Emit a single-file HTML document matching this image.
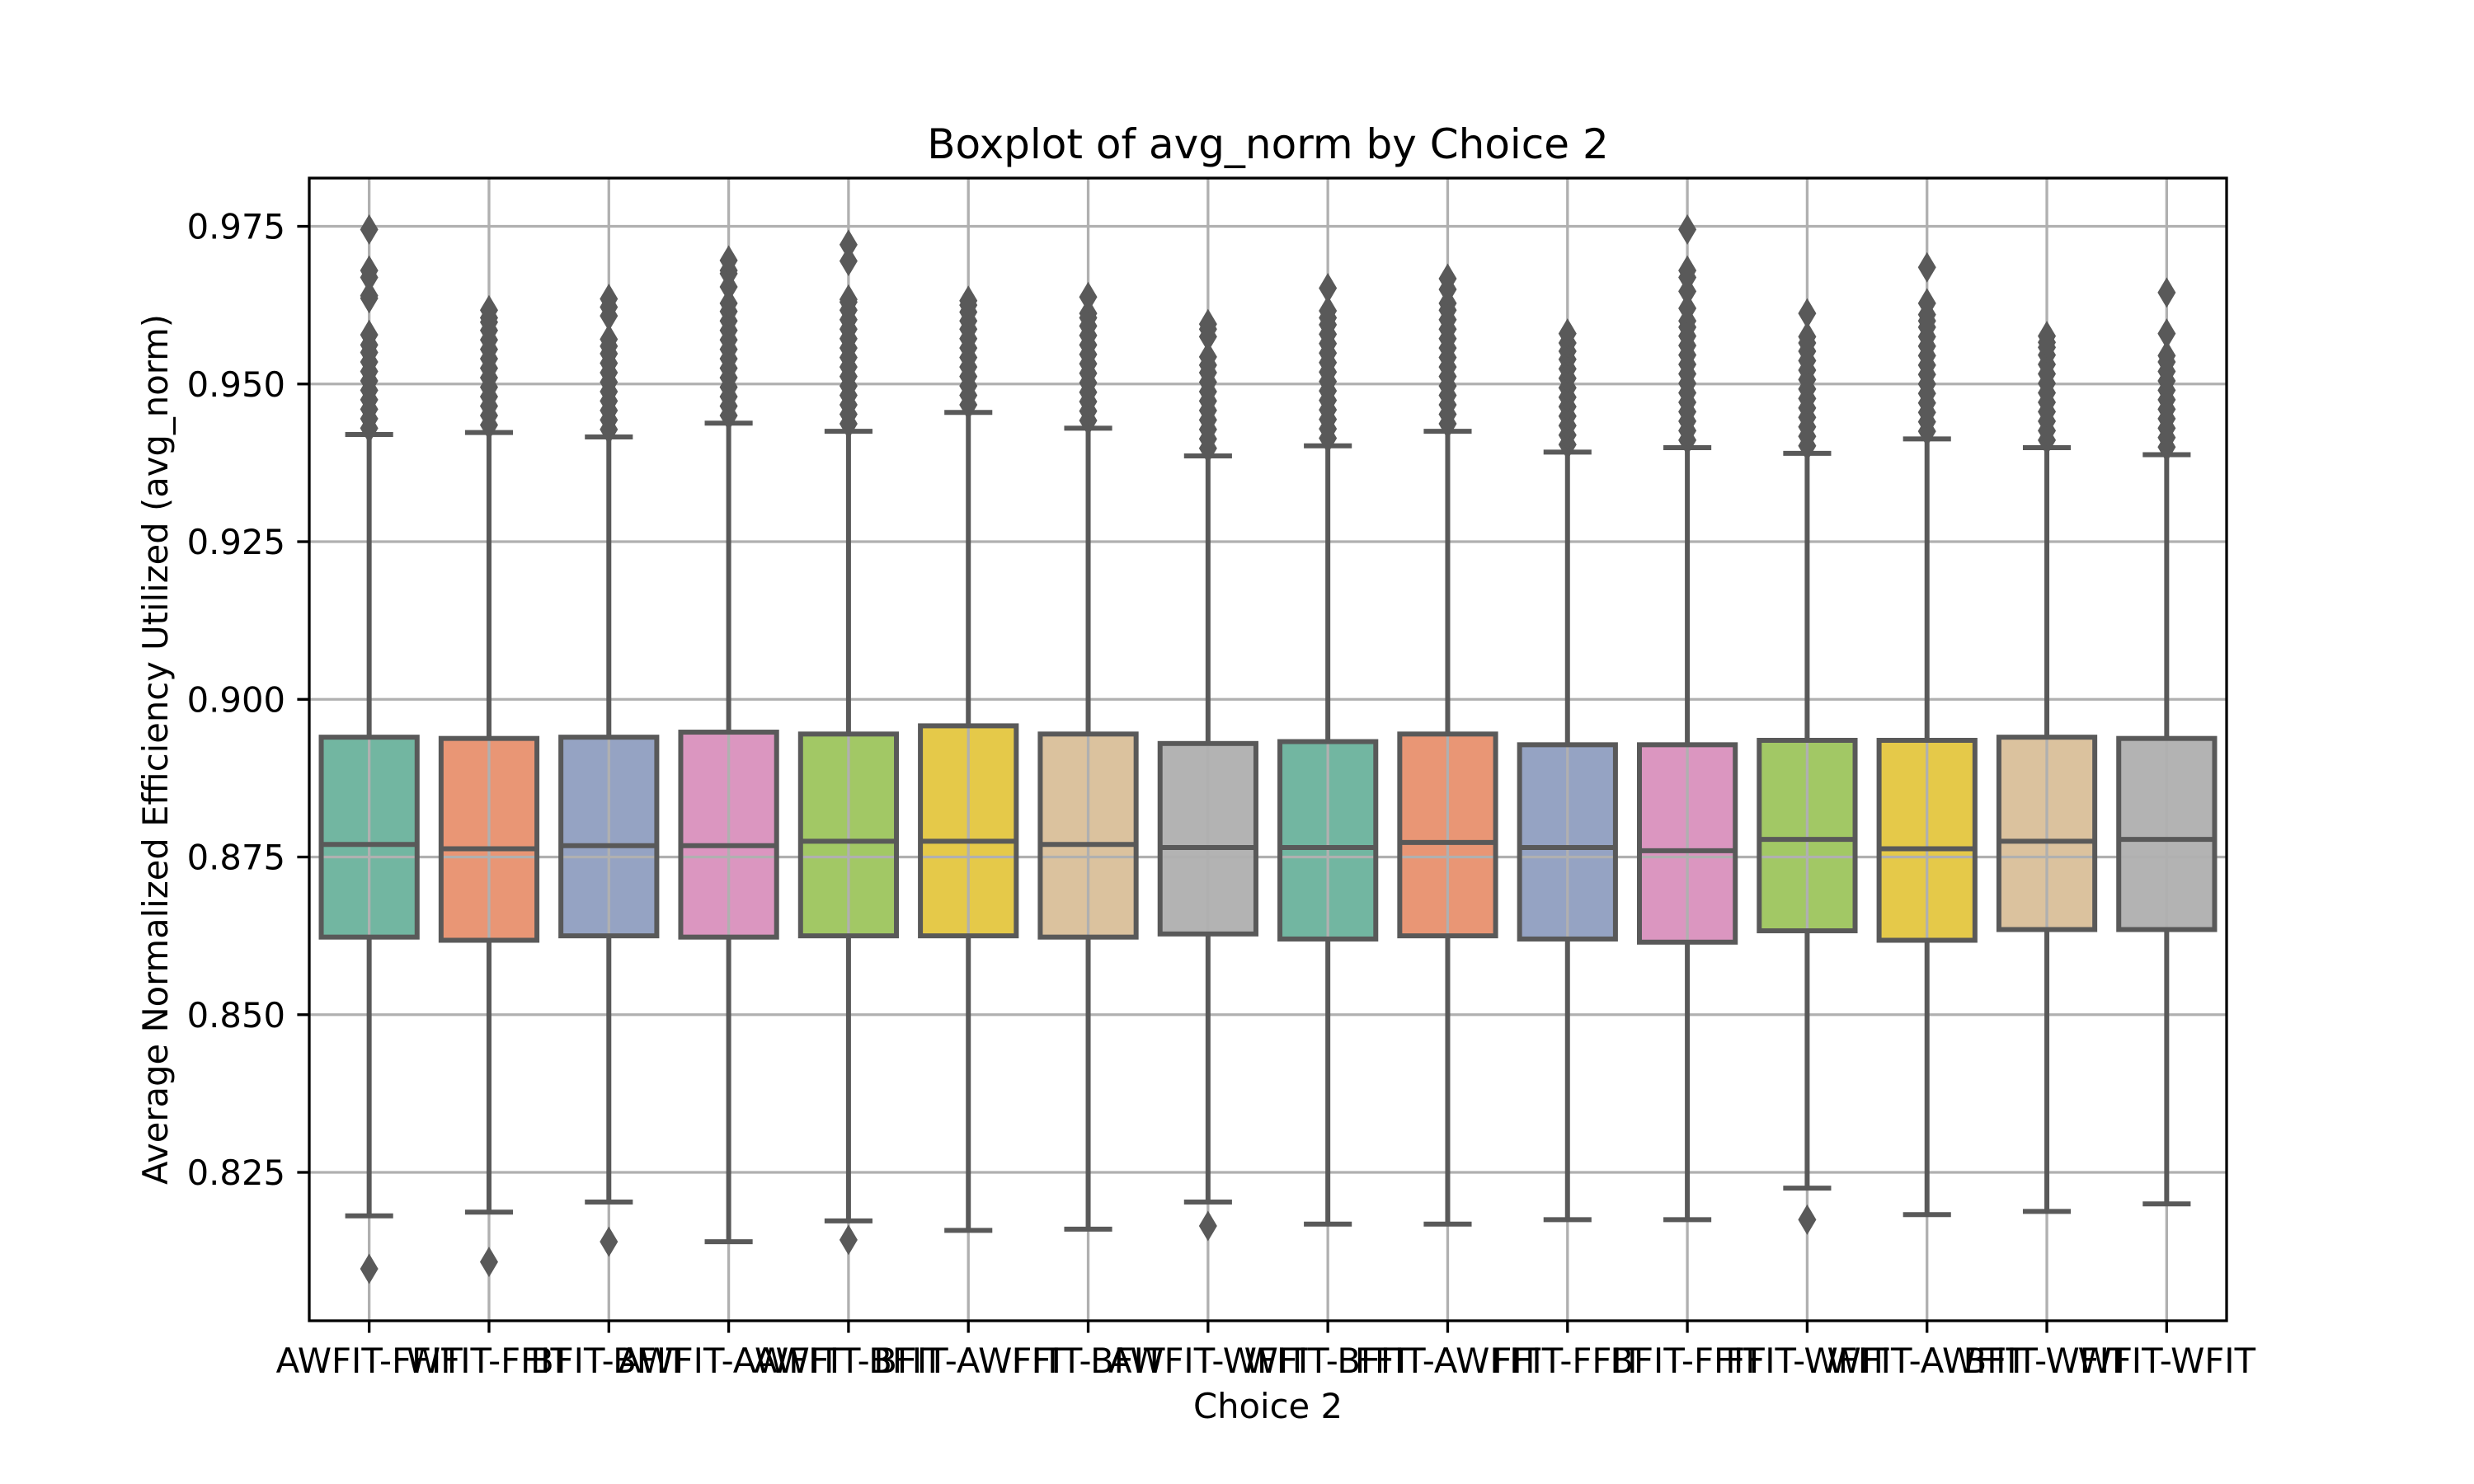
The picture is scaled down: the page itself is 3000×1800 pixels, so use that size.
<!DOCTYPE html>
<html><head><meta charset="utf-8">
<style>
html,body{margin:0;padding:0;background:#fff;}
svg{display:block;font-family:"DejaVu Sans","Liberation Sans",sans-serif;}
</style></head>
<body>
<svg id="chart" width="3000" height="1800" viewBox="0 0 3000 1800" xmlns="http://www.w3.org/2000/svg">
<rect width="3000" height="1800" fill="#fff"/>
<g id="boxes"></g>
<g id="grid"></g>
<g id="marks"></g>
<g id="axes"></g>
<text x="1537.5" y="192" font-size="50" text-anchor="middle" fill="#000">Boxplot of avg_norm by Choice 2</text>
<text x="1537.5" y="1720" font-size="41.7" text-anchor="middle" fill="#000">Choice 2</text>
<text transform="translate(203,909) rotate(-90)" font-size="41.7" text-anchor="middle" fill="#000">Average Normalized Efficiency Utilized (avg_norm)</text>
</svg>
<script>
const categories = ["AWFIT-FFIT","WFIT-FFIT","BFIT-BFIT","AWFIT-AWFIT","AWFIT-BFIT","BFIT-AWFIT","FFIT-BFIT","AWFIT-WFIT","WFIT-BFIT","FFIT-AWFIT","FFIT-FFIT","BFIT-FFIT","FFIT-WFIT","WFIT-AWFIT","BFIT-WFIT","WFIT-WFIT"];
const q1 = [0.8623,0.8618,0.8625,0.8623,0.8625,0.8625,0.8623,0.8628,0.8620,0.8625,0.8620,0.8615,0.8633,0.8618,0.8635,0.8635];
const medians = [0.8770,0.8763,0.8768,0.8768,0.8775,0.8775,0.8770,0.8765,0.8765,0.8773,0.8765,0.8760,0.8778,0.8763,0.8775,0.8778];
const q3 = [0.8940,0.8938,0.8940,0.8948,0.8945,0.8958,0.8945,0.8930,0.8933,0.8945,0.8928,0.8928,0.8935,0.8935,0.8940,0.8938];
const whiskerLow = [0.8181,0.8187,0.8203,0.8140,0.8173,0.8158,0.8160,0.8203,0.8168,0.8168,0.8175,0.8175,0.8225,0.8183,0.8188,0.8200];
const whiskerHigh = [0.9420,0.9423,0.9416,0.9438,0.9425,0.9455,0.9430,0.9386,0.9402,0.9425,0.9392,0.9399,0.9390,0.9413,0.9399,0.9388];
const outliersLow = [[0.8097],[0.8108],[0.8140],[],[0.8143],[],[],[0.8165],[],[],[],[],[0.8175],[],[],[]];
const outliersHigh = [
 [0.9430,0.9445,0.9460,0.9475,0.9490,0.9505,0.9520,0.9535,0.9550,0.9562,0.9578,0.9636,0.9640,0.9669,0.9680,0.9745],
 [0.9435,0.9450,0.9465,0.9480,0.9495,0.9510,0.9525,0.9540,0.9555,0.9570,0.9585,0.9598,0.9605,0.9617],
 [0.9428,0.9443,0.9458,0.9473,0.9488,0.9503,0.9518,0.9533,0.9548,0.9560,0.9571,0.9608,0.9622,0.9635],
 [0.9450,0.9465,0.9480,0.9495,0.9510,0.9525,0.9540,0.9555,0.9570,0.9585,0.9600,0.9615,0.9628,0.9654,0.9675,0.9680,0.9696],
 [0.9437,0.9452,0.9467,0.9482,0.9497,0.9512,0.9527,0.9542,0.9557,0.9572,0.9587,0.9602,0.9617,0.9630,0.9634,0.9695,0.9721],
 [0.9467,0.9482,0.9497,0.9512,0.9527,0.9542,0.9557,0.9572,0.9587,0.9600,0.9614,0.9625,0.9632],
 [0.9442,0.9457,0.9472,0.9487,0.9502,0.9517,0.9532,0.9547,0.9562,0.9577,0.9592,0.9605,0.9612,0.9638],
 [0.9398,0.9413,0.9428,0.9443,0.9458,0.9473,0.9488,0.9503,0.9518,0.9530,0.9543,0.9575,0.9587,0.9595],
 [0.9414,0.9429,0.9444,0.9459,0.9474,0.9489,0.9504,0.9519,0.9534,0.9549,0.9564,0.9579,0.9594,0.9605,0.9616,0.9652],
 [0.9437,0.9452,0.9467,0.9482,0.9497,0.9512,0.9527,0.9542,0.9557,0.9572,0.9587,0.9602,0.9617,0.9628,0.9650,0.9667],
 [0.9404,0.9419,0.9434,0.9449,0.9464,0.9479,0.9494,0.9509,0.9524,0.9539,0.9552,0.9565,0.9580],
 [0.9411,0.9426,0.9441,0.9456,0.9471,0.9486,0.9501,0.9516,0.9531,0.9546,0.9561,0.9576,0.9590,0.9600,0.9620,0.9647,0.9669,0.9680,0.9745],
 [0.9402,0.9417,0.9432,0.9447,0.9462,0.9477,0.9492,0.9507,0.9522,0.9537,0.9552,0.9565,0.9575,0.9612],
 [0.9425,0.9440,0.9455,0.9470,0.9485,0.9500,0.9515,0.9530,0.9545,0.9560,0.9575,0.9590,0.9600,0.9610,0.9628,0.9685],
 [0.9411,0.9426,0.9441,0.9456,0.9471,0.9486,0.9501,0.9516,0.9531,0.9546,0.9558,0.9566,0.9576],
 [0.9400,0.9415,0.9430,0.9445,0.9460,0.9475,0.9490,0.9505,0.9520,0.9535,0.9545,0.9580,0.9645]
];
const yTicks = [0.825,0.850,0.875,0.900,0.925,0.950,0.975];
const yTickLabels = ["0.825","0.850","0.875","0.900","0.925","0.950","0.975"];
const palette = ["#66c2a5","#fc8d62","#8da0cb","#e78ac3","#a6d854","#ffd92f","#e5c494","#b3b3b3"];

const NS = "http://www.w3.org/2000/svg";
const L = 375, R = 2700, T = 216, B = 1602;
const yMin = 0.80147, yMax = 0.98265;
function yScale(v){ return B - (v - yMin) / (yMax - yMin) * (B - T); }
const step = (R - L) / categories.length;
function xScale(i){ return L + (i + 0.5) * step; }
const boxW = step * 0.8;
const LC = "#595959";

function desat(hex, p){
  let r=parseInt(hex.slice(1,3),16)/255,g=parseInt(hex.slice(3,5),16)/255,b=parseInt(hex.slice(5,7),16)/255;
  const mx=Math.max(r,g,b), mn=Math.min(r,g,b), l=(mx+mn)/2, c=mx-mn;
  if(c===0) return hex;
  const s=c/(1-Math.abs(2*l-1)); const ns=s*p; const nc=ns*(1-Math.abs(2*l-1));
  const nmn=l-nc/2;
  const f=x=>Math.round((nmn+(x-mn)/c*nc)*255);
  return "rgb("+f(r)+","+f(g)+","+f(b)+")";
}
function mk(tag, attrs, parent){
  const e=document.createElementNS(NS,tag);
  for(const k in attrs) e.setAttribute(k, attrs[k]);
  parent.appendChild(e); return e;
}
const gBoxes=document.getElementById("boxes"), gGrid=document.getElementById("grid"), gMarks=document.getElementById("marks"), gAxes=document.getElementById("axes");

categories.forEach((c,i)=>{
  const x=xScale(i);
  const r=mk("rect",{x:x-boxW/2,y:yScale(q3[i]),width:boxW,height:yScale(q1[i])-yScale(q3[i]),fill:desat(palette[i%8],0.75)},gBoxes);
  
  
});
yTicks.forEach((v,k)=>{
  const ln=mk("line",{x1:L,x2:R,y1:yScale(v),y2:yScale(v),stroke:"#b0b0b0","stroke-width":3.3},gGrid);
  
  
});
categories.forEach((c,i)=>{
  const ln=mk("line",{x1:xScale(i),x2:xScale(i),y1:T,y2:B,stroke:"#b0b0b0","stroke-width":3.3},gGrid);
  
  
});
function diamond(cx,cy,parent,name){
  const w=11, h=18.5;
  const p=mk("polygon",{points:`${cx},${cy-h} ${cx+w},${cy} ${cx},${cy+h} ${cx-w},${cy}`,fill:LC},parent);
  
  
}
categories.forEach((c,i)=>{
  const x=xScale(i);
  const g=mk("g",{},gMarks);
  
  
  const sw=6;
  mk("line",{x1:x,x2:x,y1:yScale(q3[i]),y2:yScale(whiskerHigh[i]),stroke:LC,"stroke-width":sw},g);
  mk("line",{x1:x,x2:x,y1:yScale(q1[i]),y2:yScale(whiskerLow[i]),stroke:LC,"stroke-width":sw},g);
  mk("line",{x1:x-boxW/4,x2:x+boxW/4,y1:yScale(whiskerHigh[i]),y2:yScale(whiskerHigh[i]),stroke:LC,"stroke-width":sw},g);
  mk("line",{x1:x-boxW/4,x2:x+boxW/4,y1:yScale(whiskerLow[i]),y2:yScale(whiskerLow[i]),stroke:LC,"stroke-width":sw},g);
  mk("rect",{x:x-boxW/2,y:yScale(q3[i]),width:boxW,height:yScale(q1[i])-yScale(q3[i]),fill:"none",stroke:LC,"stroke-width":sw},g);
  mk("line",{x1:x-boxW/2,x2:x+boxW/2,y1:yScale(medians[i]),y2:yScale(medians[i]),stroke:LC,"stroke-width":sw},g);
  outliersHigh[i].forEach(v=>diamond(x,yScale(v),g,'outlier-high'));
  outliersLow[i].forEach(v=>diamond(x,yScale(v),g,'outlier-low'));
});
const frame=mk("rect",{x:L,y:T,width:R-L,height:B-T,fill:"none",stroke:"#000","stroke-width":3.3},gAxes);


yTicks.forEach((v,k)=>{
  const y=yScale(v);
  const t=mk("line",{x1:L-14.6,x2:L,y1:y,y2:y,stroke:"#000","stroke-width":3.3},gAxes);
  
  
  const tx=mk("text",{x:L-29,y:y+15,"font-size":41.7,"text-anchor":"end",fill:"#000"},gAxes);
  tx.textContent=yTickLabels[k];
  
  
});
categories.forEach((c,i)=>{
  const x=xScale(i);
  const t=mk("line",{x1:x,x2:x,y1:B,y2:B+14.6,stroke:"#000","stroke-width":3.3},gAxes);
  
  
  const tx=mk("text",{x:x,y:B+63,"font-size":41.7,"text-anchor":"middle",fill:"#000"},gAxes);
  tx.textContent=c;
  
  
});
</script>
</body></html>
